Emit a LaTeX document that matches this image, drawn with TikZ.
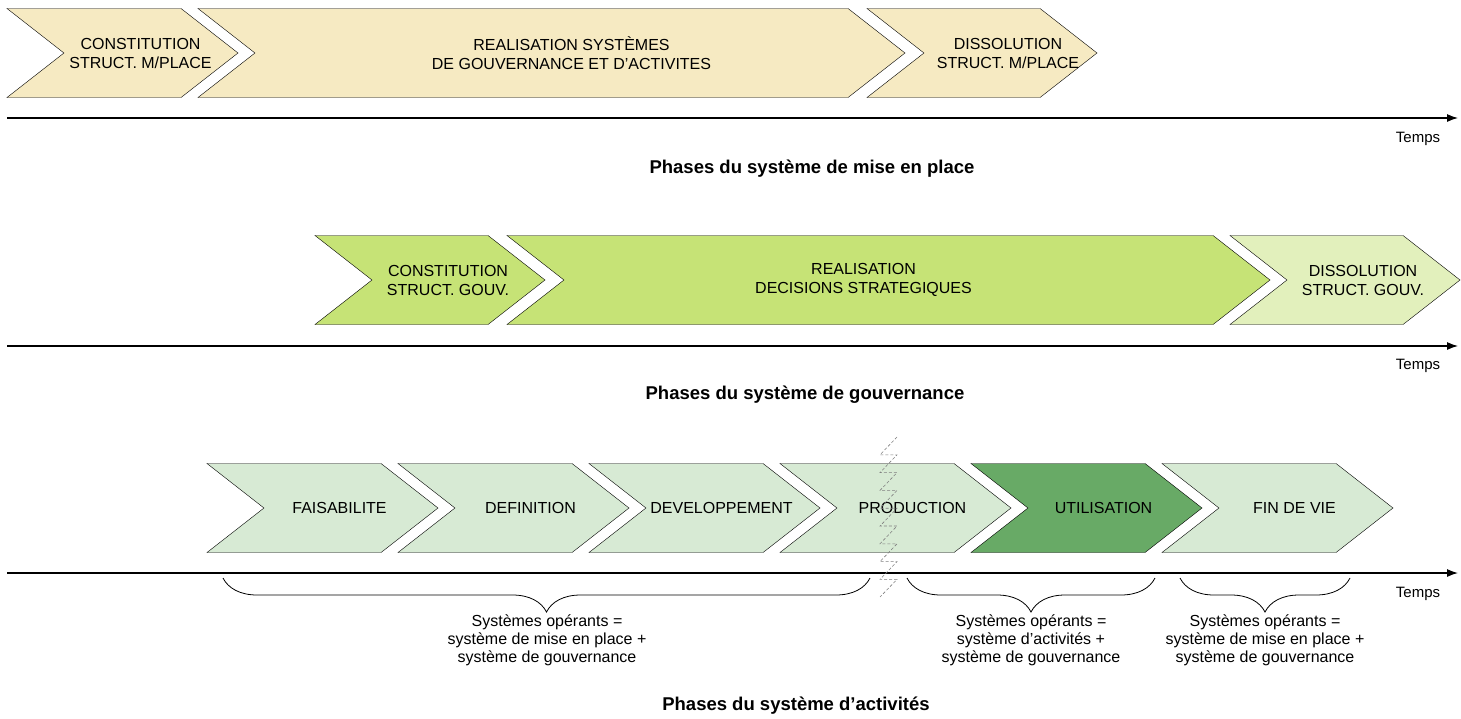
\documentclass[tikz,border=0pt]{standalone}
\usepackage{fontspec}
\setmainfont{Liberation Sans}
\usetikzlibrary{arrows.meta,positioning,shapes.symbols,decorations.pathreplacing}
\definecolor{mpyellow}{RGB}{246,234,194}
\definecolor{gvgreen}{RGB}{198,227,118}
\definecolor{gvpale}{RGB}{226,240,188}
\definecolor{acpale}{RGB}{215,234,212}
\definecolor{acdark}{RGB}{104,170,102}

\begin{document}
\begin{tikzpicture}[x=1pt,y=-1pt,>={Latex[length=11pt,width=8pt]},
    phase/.style={draw,thin,signal,signal from=west,signal to=east,signal pointer angle=76,minimum height=89pt,inner sep=0pt},
    phasetext/.style={align=center,font=\fontsize{16}{19}\selectfont},
    smalltext/.style={align=center,font=\fontsize{15}{18}\selectfont},
    optext/.style={align=center,font=\fontsize{16}{18}\selectfont,anchor=north,inner sep=0pt},
    title/.style={font=\bfseries\fontsize{18.5}{21}\selectfont},
    brace/.style={decorate,decoration={brace,mirror,amplitude=34pt},line width=0.8pt}]
    \useasboundingbox (0,0) rectangle (1461,718);
    % systeme de mise en place
    \node[phase,fill=mpyellow,minimum width=231pt] (mp1) at (122.5,53) {};
    \node[phase,fill=mpyellow,minimum width=707pt] (mp2) at (551.5,53) {};
    \node[phase,fill=mpyellow,minimum width=230pt] (mp3) at (982,53) {};
    \node[phasetext] (mp1t) at ([xshift=18pt]mp1.center) {CONSTITUTION\\STRUCT. M/PLACE};
    \node[phasetext] (mp2t) at ([xshift=20pt]mp2.center) {REALISATION SYSTÈMES\\DE GOUVERNANCE ET D’ACTIVITES};
    \node[phasetext] (mp3t) at ([xshift=26pt]mp3.center) {DISSOLUTION\\STRUCT. M/PLACE};
    \coordinate (ax1s) at (7,118);
    \coordinate (ax1e) at (1458,118);
    \draw[->,line width=1.2pt] (ax1s) -- (ax1e);
    \node[smalltext] (temps1) at (1418,139) {Temps};
    \node[title] (titre1) at (812,169) {Phases du système de mise en place};
    % systeme de gouvernance
    \node[phase,fill=gvgreen,minimum width=230pt] (gv1) at (430,280) {};
    \node[phase,fill=gvgreen,minimum width=763pt] (gv2) at (888.5,280) {};
    \node[phase,fill=gvpale,minimum width=230pt] (gv3) at (1345,280) {};
    \node[phasetext] (gv1t) at ([xshift=18pt]gv1.center) {CONSTITUTION\\STRUCT. GOUV.};
    \node[phasetext] (gv2t) at ([xshift=-25pt]gv2.center) {REALISATION\\DECISIONS STRATEGIQUES};
    \node[phasetext] (gv3t) at ([xshift=18pt]gv3.center) {DISSOLUTION\\STRUCT. GOUV.};
    \coordinate (ax2s) at (7,346);
    \coordinate (ax2e) at (1458,346);
    \draw[->,line width=1.2pt] (ax2s) -- (ax2e);
    \node[smalltext] (temps2) at (1418,366) {Temps};
    \node[title] (titre2) at (805,395) {Phases du système de gouvernance};
    % systeme d'activites
    \foreach \nm/\txt/\col [count=\k from 0] in {fais/FAISABILITE/acpale,def/DEFINITION/acpale,dev/DEVELOPPEMENT/acpale,prod/PRODUCTION/acpale,util/UTILISATION/acdark,fin/FIN DE VIE/acpale}{
      \node[phase,fill=\col,minimum width=231pt] (\nm) at ({322.5+191*\k},508) {};
      \node[phasetext] (\nm t) at ([xshift=17pt]\nm.center) {\txt};
    }
    \coordinate (ax3s) at (7,573);
    \coordinate (ax3e) at (1458,573);
    \draw[->,line width=1.2pt] (ax3s) -- (ax3e);
    \node[smalltext] (temps3) at (1418,594) {Temps};
    % rupture
    \draw[gray,densely dashed,line width=0.6pt] (897,437)
      \foreach \j in {1,...,8} { -- (880,{437+17.8*\j}) -- (897,{437+17.8*\j}) } -- (880,597);
    % accolades
    \coordinate (br1s) at (223,578);
    \coordinate (br1e) at (870,578);
    \coordinate (br2s) at (907,578);
    \coordinate (br2e) at (1155,578);
    \coordinate (br3s) at (1180,578);
    \coordinate (br3e) at (1350,578);
    \draw[brace] (br1s) -- (br1e);
    \draw[brace] (br2s) -- (br2e);
    \draw[brace] (br3s) -- (br3e);
    \node[optext] (op1) at (547,615) {Systèmes opérants =\\système de mise en place +\\système de gouvernance};
    \node[optext] (op2) at (1031,615) {Systèmes opérants =\\système d’activités +\\système de gouvernance};
    \node[optext] (op3) at (1265,615) {Systèmes opérants =\\système de mise en place +\\système de gouvernance};
    \node[title] (titre3) at (796,706) {Phases du système d’activités};
\end{tikzpicture}
\end{document}
